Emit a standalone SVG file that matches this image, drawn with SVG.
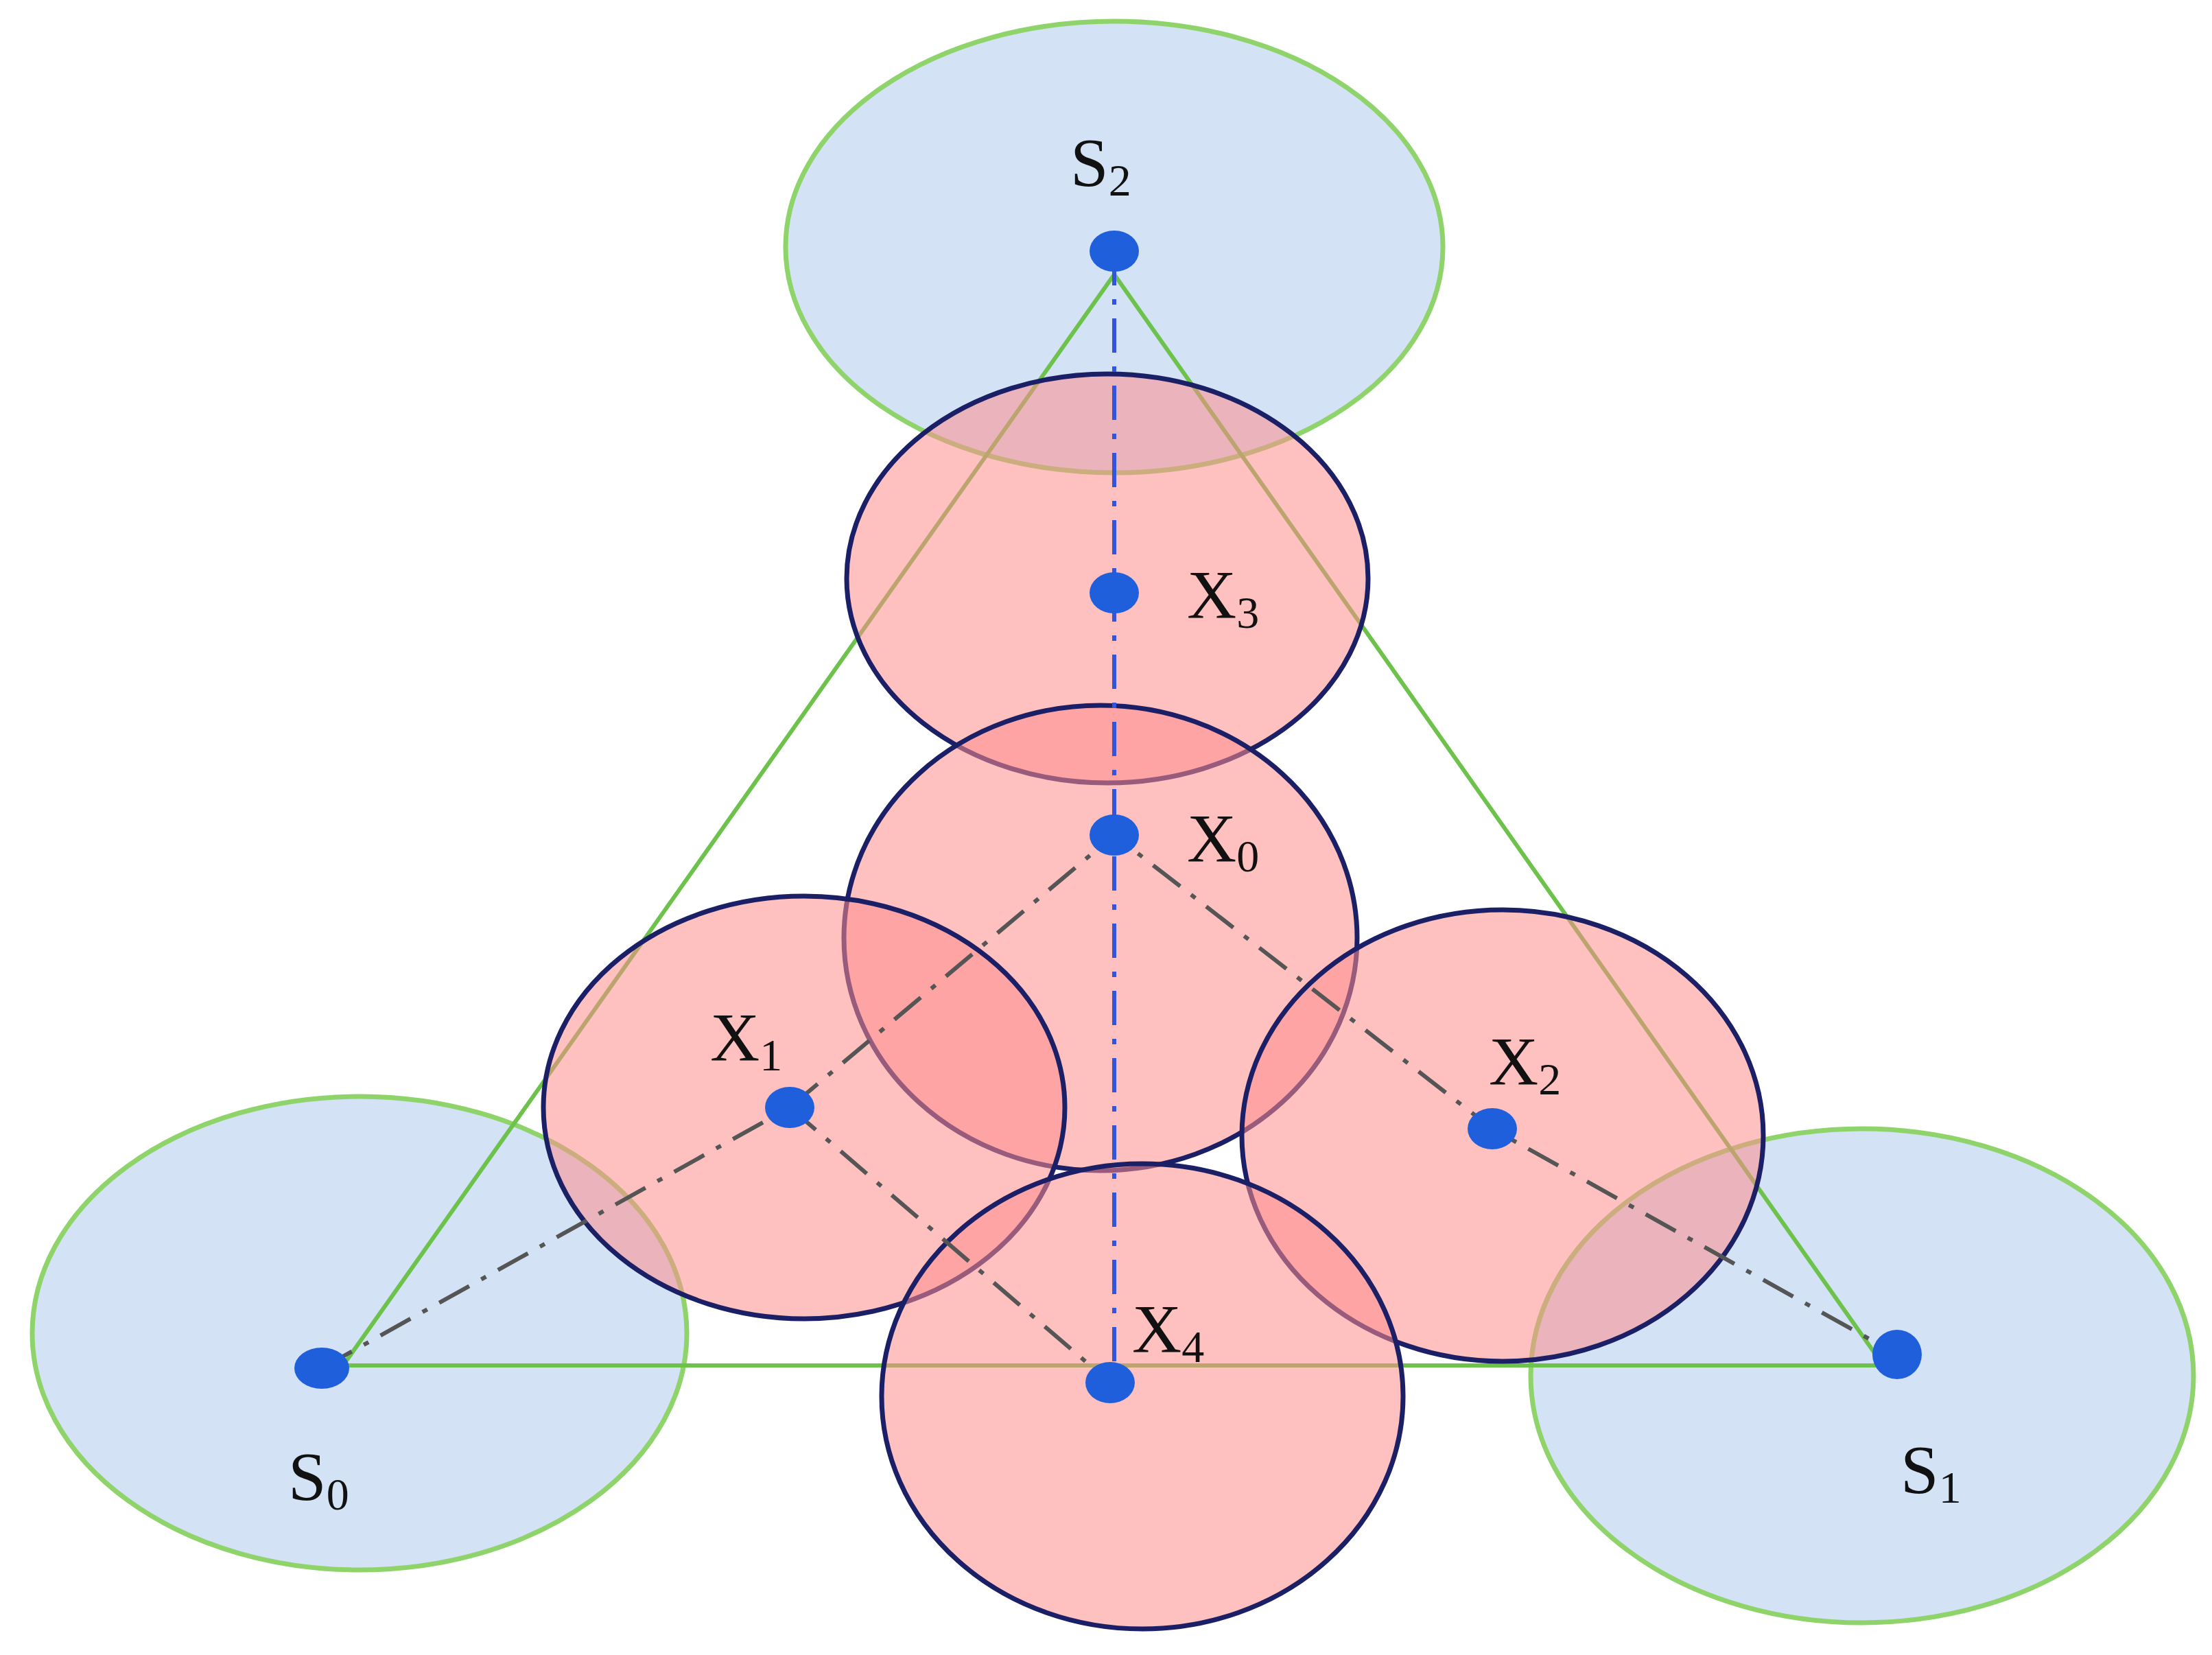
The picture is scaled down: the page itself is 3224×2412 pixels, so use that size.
<svg xmlns="http://www.w3.org/2000/svg" width="3224" height="2412" viewBox="0 0 3224 2412">
<style>
.s{fill:#d3e2f5;stroke:#8fd46a;stroke-width:7}
.x{fill:rgba(255,140,140,0.55);stroke:#1b1f66;stroke-width:7}
.tri{stroke:#6cc24a;stroke-width:6;fill:none}
.dd{stroke:#555;stroke-width:6;stroke-dasharray:50 20 8 20;fill:none}
.dv{stroke:#3355dd;stroke-width:6;stroke-dasharray:50 20 8 20;fill:none}
.dot{fill:#1f5fdc}
text{font-family:"Liberation Serif",serif;font-size:100px;fill:#111}
.sub{font-size:66px}
</style>
<rect width="3224" height="2412" fill="#fff"/>
<g id="S2n"><ellipse class="s" cx="1624" cy="360" rx="479" ry="329"/></g>
<g id="S0n"><ellipse class="s" cx="524" cy="1943" rx="477" ry="345"/></g>
<g id="S1n"><ellipse class="s" cx="2714" cy="2005" rx="483" ry="360"/></g>
<g id="triangle"><path class="tri" d="M1624,400 L500,1990 L2745,1990 Z"/></g>
<g id="X3n"><ellipse class="x" cx="1614" cy="843" rx="380" ry="298"/></g>
<g id="X0n"><ellipse class="x" cx="1604" cy="1367" rx="374" ry="339"/></g>
<g id="X1n"><ellipse class="x" cx="1172" cy="1614" rx="380" ry="308"/></g>
<g id="X2n"><ellipse class="x" cx="2190" cy="1655" rx="380" ry="329"/></g>
<g id="X4n"><ellipse class="x" cx="1665" cy="2035" rx="380" ry="339"/></g>
<g id="connectors">
<path class="dv" d="M1624,366 L1624,2015"/>
<path class="dd" d="M469,1994 L1151,1614 L1624,1217 L2175,1645 L2765,1974"/>
<path class="dd" d="M1151,1614 L1618,2015"/>
</g>
<g id="dots">
<ellipse class="dot" cx="1624" cy="366" rx="36" ry="30"/>
<ellipse class="dot" cx="1624" cy="864" rx="36" ry="30"/>
<ellipse class="dot" cx="1624" cy="1217" rx="36" ry="30"/>
<ellipse class="dot" cx="1151" cy="1614" rx="36" ry="30"/>
<ellipse class="dot" cx="2175" cy="1645" rx="36" ry="30"/>
<ellipse class="dot" cx="1618" cy="2015" rx="36" ry="30"/>
<ellipse class="dot" cx="469" cy="1994" rx="40" ry="30"/>
<ellipse class="dot" cx="2765" cy="1974" rx="36" ry="36"/>
</g>
<g id="labels">
<text x="1560" y="270">S<tspan class="sub" dy="15">2</tspan></text>
<text x="1730" y="900">X<tspan class="sub" dy="15">3</tspan></text>
<text x="1730" y="1255">X<tspan class="sub" dy="15">0</tspan></text>
<text x="1035" y="1545">X<tspan class="sub" dy="15">1</tspan></text>
<text x="2170" y="1580">X<tspan class="sub" dy="15">2</tspan></text>
<text x="1650" y="1970">X<tspan class="sub" dy="15">4</tspan></text>
<text x="420" y="2185">S<tspan class="sub" dy="15">0</tspan></text>
<text x="2770" y="2175">S<tspan class="sub" dy="15">1</tspan></text>
</g>
</svg>
